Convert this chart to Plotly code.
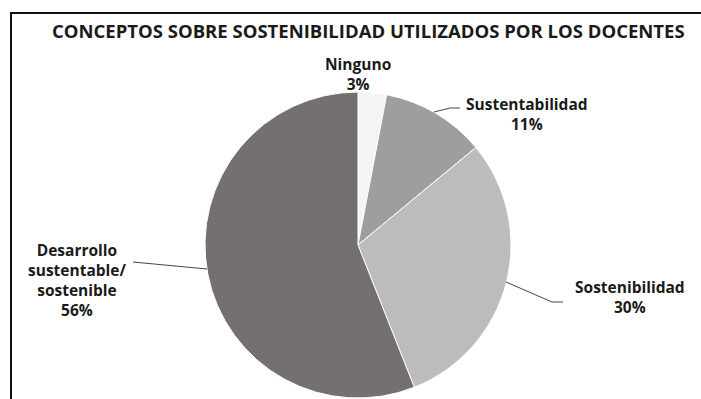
import plotly.graph_objects as go

labels = ["Ninguno", "Sustentabilidad", "Sostenibilidad", "Desarrollo sustentable/sostenible"]
values = [3, 11, 30, 56]
colors = ["#f4f4f4", "#9e9d9f", "#bcbcbc", "#747071"]
label_texts = ["<b>Ninguno</b><br><b>3%</b>",
               "<b>Sustentabilidad</b><br><b>11%</b>",
               "<b>Sostenibilidad</b><br><b>30%</b>",
               "<b>Desarrollo</b><br><b>sustentable/</b><br><b>sostenible</b><br><b>56%</b>"]
title_text = "CONCEPTOS SOBRE SOSTENIBILIDAD UTILIZADOS POR LOS DOCENTES"

W, H = 701, 399
def px(x):
    return x / W
def py(y):
    return 1 - y / H

cx, cy, r = 358, 245, 153
fig = go.Figure(go.Pie(
    labels=labels, values=values, sort=False, direction="clockwise", rotation=0,
    marker=dict(colors=colors, line=dict(color="#ffffff", width=1)),
    textinfo="none", hoverinfo="label+percent", showlegend=False,
    domain=dict(x=[px(cx - r), px(cx + r)], y=[py(cy + r), py(cy - r)]),
))

font_family = "'Open Sans', Lato, sans-serif"
label_pos = [(358, 74), (527, 114), (630, 297), (77, 280)]
annotations = [dict(x=px(368), y=py(30), xref="paper", yref="paper", text="<b>" + title_text + "</b>",
                    showarrow=False, xanchor="center", yanchor="middle",
                    font=dict(family=font_family, size=18.5, color="#1a1a1a"))]
for t, (lx, ly) in zip(label_texts, label_pos):
    annotations.append(dict(x=px(lx), y=py(ly), xref="paper", yref="paper", text=t, showarrow=False,
                            xanchor="center", yanchor="middle",
                            font=dict(family=font_family, size=15.5, color="#1a1a1a"), align="center"))

leaders = [
    [(434, 112), (450, 108), (460, 108)],
    [(506, 282), (552, 302), (563, 302)],
    [(207, 269), (133, 262)],
]
shapes = [dict(type="rect", xref="paper", yref="paper", x0=px(11), x1=1.05, y0=-0.05, y1=py(13),
               line=dict(color="#111111", width=2), fillcolor="rgba(0,0,0,0)")]
for pts in leaders:
    path = "M " + " L ".join(f"{px(x)},{py(y)}" for x, y in pts)
    shapes.append(dict(type="path", xref="paper", yref="paper", path=path,
                       line=dict(color="#444444", width=1)))

fig.update_layout(width=W, height=H, margin=dict(l=0, r=0, t=0, b=0),
                  paper_bgcolor="white", plot_bgcolor="white",
                  annotations=annotations, shapes=shapes)
fig.write_html("out.html", config={"displayModeBar": False},
               post_script="document.body.style.margin='0';")
